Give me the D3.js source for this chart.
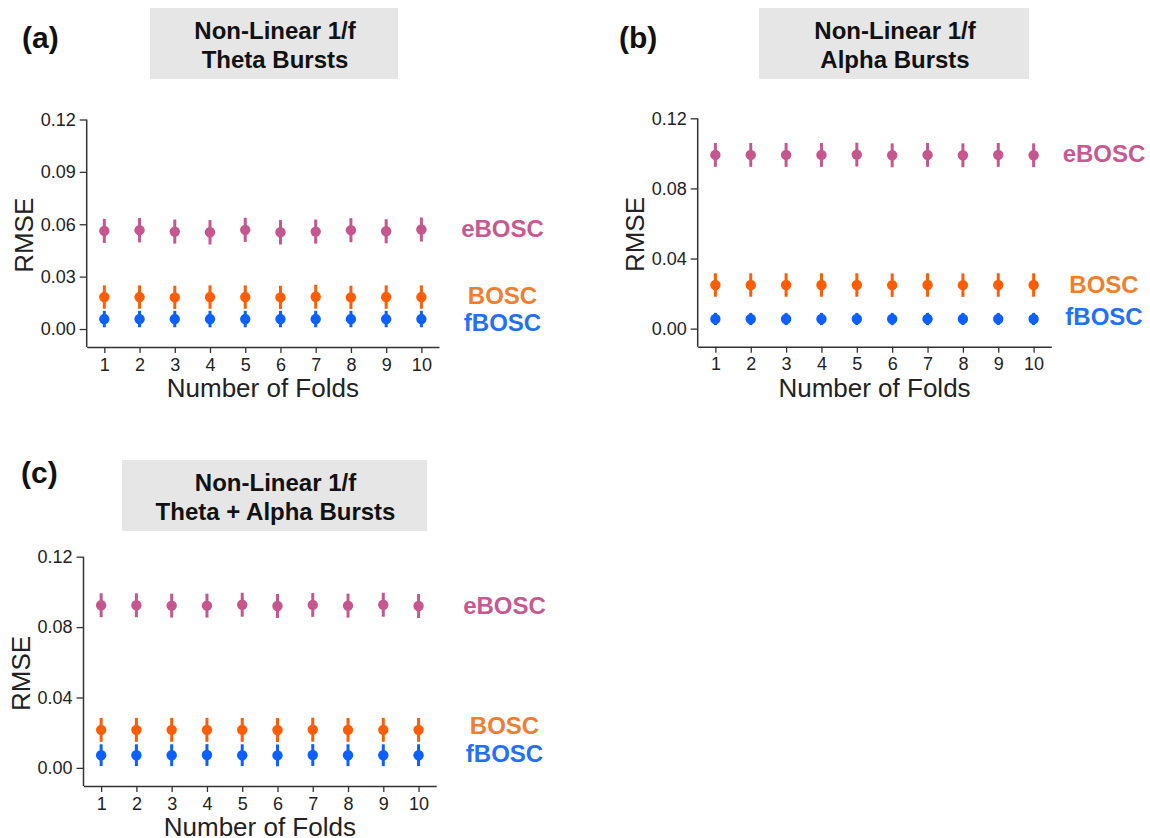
<!DOCTYPE html>
<html>
<head>
<meta charset="utf-8">
<script src="https://cdn.jsdelivr.net/npm/d3@7"></script>
<style>
  html, body { margin: 0; padding: 0; background: #ffffff; }
  svg { display: block; font-family: "Liberation Sans", Arial, Helvetica, sans-serif; }
</style>
</head>
<body>
<svg id="chart" width="1150" height="838"></svg>
<script>
// ---------------- DATA ----------------
const folds = [1, 2, 3, 4, 5, 6, 7, 8, 9, 10];
const methods = ["eBOSC", "BOSC", "fBOSC"];

const yTicksA = [0.00, 0.03, 0.06, 0.09, 0.12];
const yTicksB = [0.00, 0.04, 0.08, 0.12];
const yTicksC = [0.00, 0.04, 0.08, 0.12];

const titleA = ["Non-Linear 1/f", "Theta Bursts"];
const titleB = ["Non-Linear 1/f", "Alpha Bursts"];
const titleC = ["Non-Linear 1/f", "Theta + Alpha Bursts"];

// Panel (a): Theta bursts - mean RMSE and half-width of error bar
const eBOSC_a     = [0.0562, 0.0566, 0.0558, 0.0554, 0.0568, 0.0554, 0.0558, 0.0566, 0.0560, 0.0570];
const eBOSC_a_err = [0.0069, 0.0070, 0.0069, 0.0070, 0.0069, 0.0070, 0.0069, 0.0069, 0.0069, 0.0069];
const BOSC_a      = [0.0183, 0.0183, 0.0181, 0.0183, 0.0183, 0.0181, 0.0185, 0.0181, 0.0183, 0.0183];
const BOSC_a_err  = [0.0067, 0.0067, 0.0067, 0.0067, 0.0067, 0.0067, 0.0068, 0.0067, 0.0067, 0.0067];
const fBOSC_a     = [0.0057, 0.0057, 0.0057, 0.0057, 0.0057, 0.0057, 0.0057, 0.0057, 0.0057, 0.0057];
const fBOSC_a_err = [0.0047, 0.0047, 0.0047, 0.0047, 0.0047, 0.0047, 0.0047, 0.0047, 0.0047, 0.0047];

// Panel (b): Alpha bursts
const eBOSC_b     = [0.0991, 0.0991, 0.0991, 0.0991, 0.0993, 0.0989, 0.0991, 0.0989, 0.0991, 0.0989];
const eBOSC_b_err = [0.0068, 0.0068, 0.0068, 0.0068, 0.0068, 0.0068, 0.0068, 0.0068, 0.0068, 0.0068];
const BOSC_b      = [0.0249, 0.0249, 0.0249, 0.0249, 0.0249, 0.0248, 0.0249, 0.0248, 0.0249, 0.0249];
const BOSC_b_err  = [0.0067, 0.0067, 0.0067, 0.0067, 0.0067, 0.0067, 0.0067, 0.0067, 0.0067, 0.0067];
const fBOSC_b     = [0.0055, 0.0055, 0.0055, 0.0055, 0.0055, 0.0055, 0.0055, 0.0055, 0.0055, 0.0055];
const fBOSC_b_err = [0.0035, 0.0035, 0.0035, 0.0035, 0.0035, 0.0035, 0.0035, 0.0035, 0.0035, 0.0035];

// Panel (c): Theta + Alpha bursts
const eBOSC_c     = [0.0924, 0.0924, 0.0922, 0.0922, 0.0927, 0.0920, 0.0926, 0.0922, 0.0927, 0.0920];
const eBOSC_c_err = [0.0068, 0.0068, 0.0068, 0.0068, 0.0068, 0.0068, 0.0068, 0.0068, 0.0068, 0.0068];
const BOSC_c      = [0.0216, 0.0216, 0.0216, 0.0216, 0.0216, 0.0215, 0.0217, 0.0216, 0.0216, 0.0216];
const BOSC_c_err  = [0.0068, 0.0068, 0.0068, 0.0068, 0.0068, 0.0068, 0.0068, 0.0068, 0.0068, 0.0068];
const fBOSC_c     = [0.0072, 0.0072, 0.0072, 0.0073, 0.0072, 0.0071, 0.0073, 0.0072, 0.0072, 0.0072];
const fBOSC_c_err = [0.0062, 0.0062, 0.0062, 0.0062, 0.0062, 0.0062, 0.0062, 0.0062, 0.0062, 0.0062];

// ---------------- STYLE / LAYOUT ----------------
const markerColor = { eBOSC: "#c6578e", BOSC: "#ff5d05", fBOSC: "#0b60ff" };
const labelColor  = { eBOSC: "#c65990", BOSC: "#ef7e30", fBOSC: "#2370f4" };
const fontFamily = '"Liberation Sans", Arial, Helvetica, sans-serif';
const yMin = -0.0103, yMax = 0.12;

const panels = [
  {
    letter: "(a)", letterX: 22, letterY: 48,
    title: titleA, box: { x0: 150, x1: 398, y0: 8, y1: 79 },
    left: 86.7, right: 439, top: 119.5, bottom: 347,
    ticks: yTicksA,
    series: { eBOSC: [eBOSC_a, eBOSC_a_err], BOSC: [BOSC_a, BOSC_a_err], fBOSC: [fBOSC_a, fBOSC_a_err] },
    labelX: 502.5, labelDy: { eBOSC: 5.7, BOSC: 6.7, fBOSC: 11.7 }
  },
  {
    letter: "(b)", letterX: 619, letterY: 48,
    title: titleB, box: { x0: 759, x1: 1029, y0: 8, y1: 79 },
    left: 697.7, right: 1051.3, top: 118.3, bottom: 346.7,
    ticks: yTicksB,
    series: { eBOSC: [eBOSC_b, eBOSC_b_err], BOSC: [BOSC_b, BOSC_b_err], fBOSC: [fBOSC_b, fBOSC_b_err] },
    labelX: 1104, labelDy: { eBOSC: 6.7, BOSC: 7.7, fBOSC: 5.7 }
  },
  {
    letter: "(c)", letterX: 21, letterY: 483,
    title: titleC, box: { x0: 122, x1: 427, y0: 460, y1: 531 },
    left: 83.5, right: 436.2, top: 556.7, bottom: 786,
    ticks: yTicksC,
    series: { eBOSC: [eBOSC_c, eBOSC_c_err], BOSC: [BOSC_c, BOSC_c_err], fBOSC: [fBOSC_c, fBOSC_c_err] },
    labelX: 504.5, labelDy: { eBOSC: 8.5, BOSC: 4, fBOSC: 6.4 }
  }
];

// ---------------- DRAW ----------------
const svg = d3.select("#chart");

panels.forEach(p => {
  const g = svg.append("g");

  // panel letter
  g.append("text")
    .attr("x", p.letterX).attr("y", p.letterY)
    .attr("font-size", 30).attr("font-weight", "bold").attr("fill", "#111")
    .text(p.letter);

  // title box
  g.append("rect")
    .attr("x", p.box.x0).attr("y", p.box.y0)
    .attr("width", p.box.x1 - p.box.x0).attr("height", p.box.y1 - p.box.y0)
    .attr("fill", "#e6e6e6");
  p.title.forEach((line, i) => {
    g.append("text")
      .attr("x", (p.box.x0 + p.box.x1) / 2 + 1)
      .attr("y", p.box.y0 + 31 + i * 28.5)
      .attr("text-anchor", "middle")
      .attr("font-size", 24).attr("font-weight", "bold").attr("fill", "#111")
      .text(line);
  });

  const x = d3.scaleLinear().domain([0.5, 10.5]).range([p.left, p.right]);
  const y = d3.scaleLinear().domain([yMin, yMax]).range([p.bottom, p.top]);

  // axes
  const xAxis = d3.axisBottom(x).tickValues(folds).tickFormat(d3.format("d"))
    .tickSizeInner(6).tickSizeOuter(0).tickPadding(5);
  const yAxis = d3.axisLeft(y).tickValues(p.ticks).tickFormat(d3.format(".2f"))
    .tickSizeInner(7).tickSizeOuter(0).tickPadding(4);

  const gx = g.append("g").attr("transform", `translate(0,${p.bottom})`).call(xAxis);
  const gy = g.append("g").attr("transform", `translate(${p.left},0)`).call(yAxis);
  gy.select(".domain").attr("d", `M0,${y(yMax)}V${p.bottom}`);

  [gx, gy].forEach(ax => {
    ax.select(".domain").attr("stroke", "#333").attr("stroke-width", 1.5);
    ax.selectAll(".tick line").attr("stroke", "#333").attr("stroke-width", 1.3);
    ax.selectAll(".tick text").attr("fill", "#222").attr("font-family", fontFamily)
      .attr("font-size", 18);
  });

  // axis labels
  g.append("text")
    .attr("x", (p.left + p.right) / 2)
    .attr("y", p.bottom + 50)
    .attr("text-anchor", "middle")
    .attr("font-size", 26).attr("fill", "#222")
    .text("Number of Folds");
  g.append("text")
    .attr("transform", `translate(${p.left - 62.7 + 9},${(p.top + p.bottom) / 2 + 2}) rotate(-90)`)
    .attr("text-anchor", "middle")
    .attr("font-size", 26).attr("fill", "#222")
    .text("RMSE");

  // series
  methods.forEach(m => {
    const [vals, errs] = p.series[m];
    const data = folds.map((f, i) => ({ f, v: vals[i], e: errs[i] }));
    const sg = g.append("g");
    sg.selectAll("line.err").data(data).enter().append("line")
      .attr("class", "err")
      .attr("x1", d => x(d.f)).attr("x2", d => x(d.f))
      .attr("y1", d => y(d.v - d.e)).attr("y2", d => y(d.v + d.e))
      .attr("stroke", markerColor[m]).attr("stroke-width", 3);
    sg.selectAll("circle").data(data).enter().append("circle")
      .attr("cx", d => x(d.f)).attr("cy", d => y(d.v))
      .attr("r", 5.2)
      .attr("fill", markerColor[m]);

    g.append("text")
      .attr("x", p.labelX)
      .attr("y", y(d3.mean(vals)) + p.labelDy[m])
      .attr("text-anchor", "middle")
      .attr("font-size", 24).attr("font-weight", "bold")
      .attr("fill", labelColor[m])
      .text(m);
  });
});
</script>
</body>
</html>
